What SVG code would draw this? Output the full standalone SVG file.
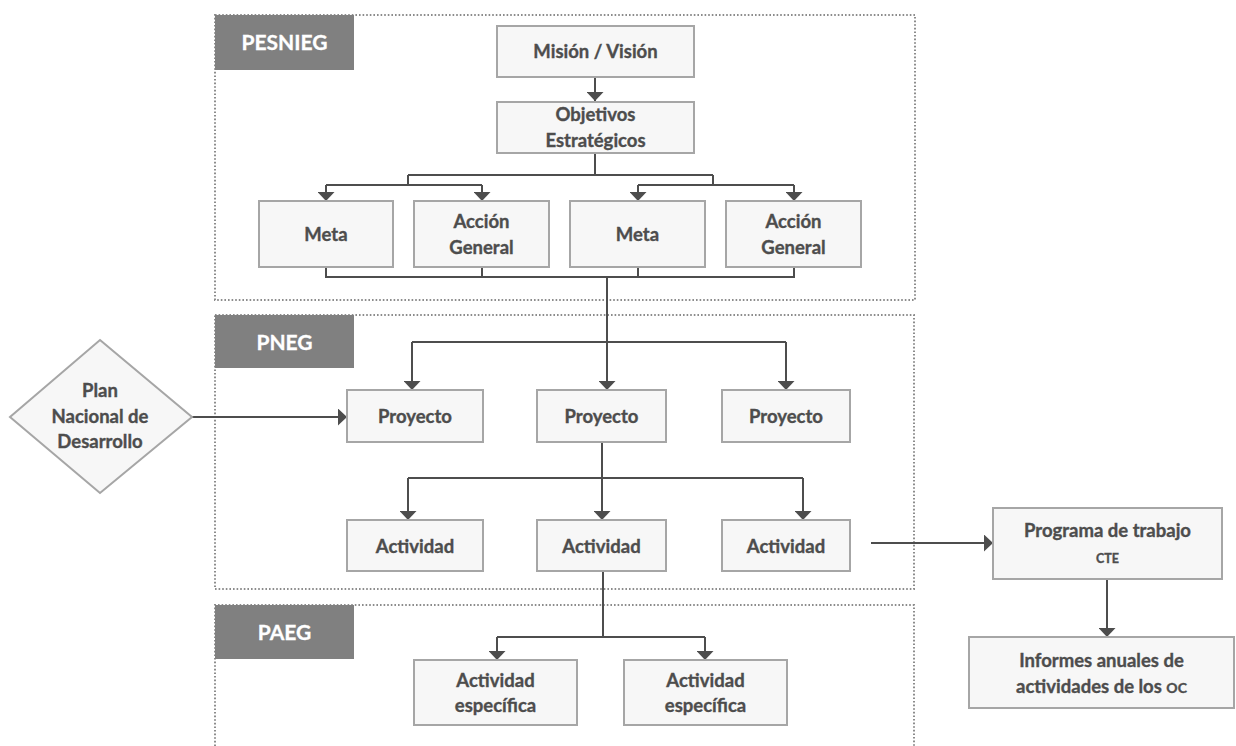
<svg xmlns="http://www.w3.org/2000/svg" width="1236" height="746" viewBox="0 0 1236 746">
<style>
.region{fill:none;stroke:#8c8c8c;stroke-width:2;stroke-dasharray:1.6 2}
.lbl{fill:#808080}
.lt{font-family:Lato,"Open Sans",sans-serif;font-weight:bold;font-size:21px;fill:#ffffff;text-anchor:middle;stroke:#ffffff;stroke-width:0.3}
.box{fill:#f7f7f7;stroke:#a6a6a6;stroke-width:2}
.t{font-family:Lato,"Open Sans",sans-serif;font-weight:bold;font-size:18.5px;fill:#4d4d4d;text-anchor:middle;stroke:#4d4d4d;stroke-width:0.35}
.sm{font-size:12.5px}
.c{fill:none;stroke:#4d4d4d;stroke-width:2}
.a{marker-end:url(#arr)}
</style>
<defs>
<marker id="arr" viewBox="0 0 9 17" refX="9" refY="8.5" markerWidth="9" markerHeight="17" markerUnits="userSpaceOnUse" orient="auto">
<path d="M0,0 L9,8.5 L0,17 z" fill="#4d4d4d"/>
</marker>
</defs>

<g id="region-pesnieg">
<rect class="region" x="215" y="15" width="700" height="285"/>
<rect class="lbl" x="215" y="15" width="139" height="55"/>
<text class="lt" x="284.5" y="50">PESNIEG</text>
</g>
<g id="region-pneg">
<rect class="region" x="215" y="315" width="699" height="274"/>
<rect class="lbl" x="215" y="315" width="139" height="53"/>
<text class="lt" x="284.5" y="350">PNEG</text>
</g>
<g id="region-paeg">
<path class="region" d="M215,746 V605 H914 V746"/>
<rect class="lbl" x="215" y="605" width="139" height="54"/>
<text class="lt" x="284.5" y="640">PAEG</text>
</g>

<g id="connectors">
<path class="c a" d="M595,77 V101"/>
<path class="c" d="M595,153 V175 M408,175 H713 M408,175 V185 M326,185 H482 M713,175 V185 M638,185 H794"/>
<path class="c a" d="M326,185 V201"/>
<path class="c a" d="M482,185 V201"/>
<path class="c a" d="M638,185 V201"/>
<path class="c a" d="M794,185 V201"/>
<path class="c" d="M326,267 V277 H794 V267 M482,267 V277 M638,267 V277 M412,342 H786"/>
<path class="c a" d="M607,277 V390"/>
<path class="c a" d="M412,342 V390"/>
<path class="c a" d="M786,342 V390"/>
<path class="c a" d="M192,417 H347"/>
<path class="c" d="M408,478 H803"/>
<path class="c a" d="M602,442 V520"/>
<path class="c a" d="M408,478 V520"/>
<path class="c a" d="M803,478 V520"/>
<path class="c a" d="M871,543 H993"/>
<path class="c a" d="M1107,579 V637"/>
<path class="c" d="M603,571 V637 M497,637 H705"/>
<path class="c a" d="M497,637 V660"/>
<path class="c a" d="M705,637 V660"/>
</g>

<g id="mision">
<rect class="box" x="497" y="26" width="197" height="51"/>
<text class="t" x="595.5" y="58">Misión / Visión</text>
</g>
<g id="objetivos">
<rect class="box" x="497" y="102" width="197" height="51"/>
<text class="t" x="595.5" y="121">Objetivos</text>
<text class="t" x="595.5" y="147">Estratégicos</text>
</g>
<g id="meta1">
<rect class="box" x="259" y="201" width="134" height="66"/>
<text class="t" x="326" y="241">Meta</text>
</g>
<g id="accion1">
<rect class="box" x="414" y="201" width="135" height="66"/>
<text class="t" x="481.5" y="228">Acción</text>
<text class="t" x="481.5" y="254">General</text>
</g>
<g id="meta2">
<rect class="box" x="570" y="201" width="135" height="66"/>
<text class="t" x="637.5" y="241">Meta</text>
</g>
<g id="accion2">
<rect class="box" x="726" y="201" width="135" height="66"/>
<text class="t" x="793.5" y="228">Acción</text>
<text class="t" x="793.5" y="254">General</text>
</g>
<g id="plan-nacional">
<polygon points="100,340 192,417 100,493 10,417" fill="#f7f7f7" stroke="#a6a6a6" stroke-width="2"/>
<text class="t" x="100" y="397">Plan</text>
<text class="t" x="100" y="423">Nacional de</text>
<text class="t" x="100" y="448">Desarrollo</text>
</g>
<g id="proyecto1">
<rect class="box" x="347" y="390" width="136" height="52"/>
<text class="t" x="415" y="423">Proyecto</text>
</g>
<g id="proyecto2">
<rect class="box" x="537" y="390" width="129" height="52"/>
<text class="t" x="601.5" y="423">Proyecto</text>
</g>
<g id="proyecto3">
<rect class="box" x="722" y="390" width="128" height="52"/>
<text class="t" x="786" y="423">Proyecto</text>
</g>
<g id="actividad1">
<rect class="box" x="347" y="520" width="136" height="51"/>
<text class="t" x="415" y="553">Actividad</text>
</g>
<g id="actividad2">
<rect class="box" x="537" y="520" width="129" height="51"/>
<text class="t" x="601.5" y="553">Actividad</text>
</g>
<g id="actividad3">
<rect class="box" x="722" y="520" width="128" height="51"/>
<text class="t" x="786" y="553">Actividad</text>
</g>
<g id="programa">
<rect class="box" x="993" y="508" width="229" height="71"/>
<text class="t" x="1107.5" y="537">Programa de trabajo</text>
<text class="t sm" x="1107.5" y="563">CTE</text>
</g>
<g id="informes">
<rect class="box" x="969" y="637" width="265" height="71"/>
<text class="t" x="1101.5" y="667">Informes anuales de</text>
<text class="t" x="1101.5" y="693">actividades de los <tspan font-size="14">OC</tspan></text>
</g>
<g id="especifica1">
<rect class="box" x="414" y="660" width="163" height="65"/>
<text class="t" x="495.5" y="687">Actividad</text>
<text class="t" x="495.5" y="712">específica</text>
</g>
<g id="especifica2">
<rect class="box" x="624" y="660" width="163" height="65"/>
<text class="t" x="705.5" y="687">Actividad</text>
<text class="t" x="705.5" y="712">específica</text>
</g>
</svg>
